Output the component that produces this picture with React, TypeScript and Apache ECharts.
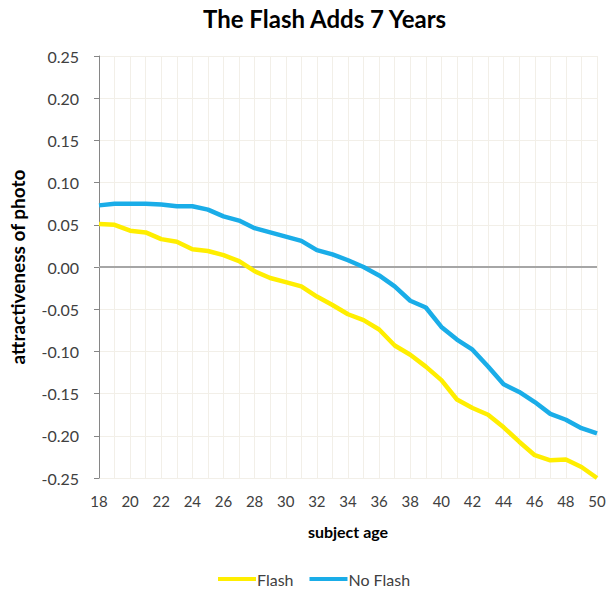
import React, { useEffect, useRef } from "react";
import * as echarts from "echarts";

const ages = [18,19,20,21,22,23,24,25,26,27,28,29,30,31,32,33,34,35,36,37,38,39,40,41,42,43,44,45,46,47,48,49,50];
const flash = [0.051,0.050,0.043,0.041,0.033,0.030,0.021,0.019,0.014,0.007,-0.005,-0.013,-0.018,-0.023,-0.035,-0.045,-0.056,-0.063,-0.074,-0.093,-0.104,-0.118,-0.134,-0.157,-0.167,-0.175,-0.190,-0.207,-0.223,-0.229,-0.228,-0.237,-0.250];
const noFlash = [0.073,0.075,0.075,0.075,0.074,0.072,0.072,0.068,0.060,0.055,0.046,0.041,0.036,0.031,0.020,0.015,0.008,0.000,-0.010,-0.023,-0.040,-0.048,-0.071,-0.086,-0.098,-0.118,-0.139,-0.148,-0.160,-0.174,-0.181,-0.191,-0.197];
const seriesNames = ["Flash", "No Flash"];

const FONT = "Lato, 'Open Sans', sans-serif";

export default function App() {
  const ref = useRef<HTMLDivElement>(null);
  useEffect(() => {
    if (!ref.current) return;
    const chart = echarts.init(ref.current, undefined, { renderer: "svg" });
    chart.setOption({
      animation: false,
      backgroundColor: "#ffffff",
      textStyle: { fontFamily: FONT },
      title: {
        text: "The Flash Adds 7 Years",
        left: 198,
        top: 1,
        textStyle: { fontFamily: FONT, fontSize: 24, fontWeight: "bold", color: "#000000" },
      },
      legend: {
        top: 566,
        left: 213,
        icon: "rect",
        itemWidth: 38,
        itemHeight: 4,
        itemGap: 16,
        textStyle: { fontFamily: FONT, fontSize: 16, color: "#404040", padding: [0, 0, 0, -4] },
        data: seriesNames,
      },
      grid: { left: 91, right: 17, top: 56, bottom: 122 },
      xAxis: {
        type: "category",
        data: ages.map(String),
        boundaryGap: false,
        name: "subject age",
        nameLocation: "middle",
        nameGap: 45,
        nameTextStyle: { fontFamily: FONT, fontSize: 16, fontWeight: "bold", color: "#000000" },
        axisLine: { show: false },
        axisTick: { show: false },
        axisLabel: { interval: 1, margin: 15, fontFamily: FONT, fontSize: 15, color: "#404040" },
        splitLine: { show: true, interval: 0, lineStyle: { color: "#f2efe8", width: 1 } },
      },
      yAxis: {
        type: "value",
        min: -0.25,
        max: 0.25,
        interval: 0.05,
        name: "attractiveness of photo",
        nameLocation: "middle",
        nameGap: 72,
        nameTextStyle: { fontFamily: FONT, fontSize: 19, fontWeight: "bold", color: "#000000" },
        axisLine: { show: true, lineStyle: { color: "#868686", width: 1 } },
        axisTick: { show: true, length: 5, lineStyle: { color: "#868686" } },
        axisLabel: { margin: 20, fontFamily: FONT, fontSize: 16, color: "#404040", formatter: (v: number) => v.toFixed(2) },
        splitLine: { show: true, lineStyle: { color: "#f2efe8", width: 1 } },
      },
      series: [
        {
          name: seriesNames[0],
          type: "line",
          data: flash,
          showSymbol: false,
          symbol: "none",
          lineStyle: { color: "#ffee00", width: 4.5 },
          itemStyle: { color: "#ffee00" },
          z: 3,
          markLine: {
            silent: true,
            symbol: "none",
            label: { show: false },
            lineStyle: { color: "#a6a6a6", width: 2, type: "solid" },
            data: [{ yAxis: 0 }],
            z: 1,
          },
        },
        {
          name: seriesNames[1],
          type: "line",
          data: noFlash,
          showSymbol: false,
          symbol: "none",
          lineStyle: { color: "#1aade8", width: 4.5 },
          itemStyle: { color: "#1aade8" },
          z: 3,
        },
      ],
    });
    return () => chart.dispose();
  }, []);
  return <div ref={ref} style={{ position: "absolute", left: 0, top: 0, width: 614, height: 600 }} />;
}
